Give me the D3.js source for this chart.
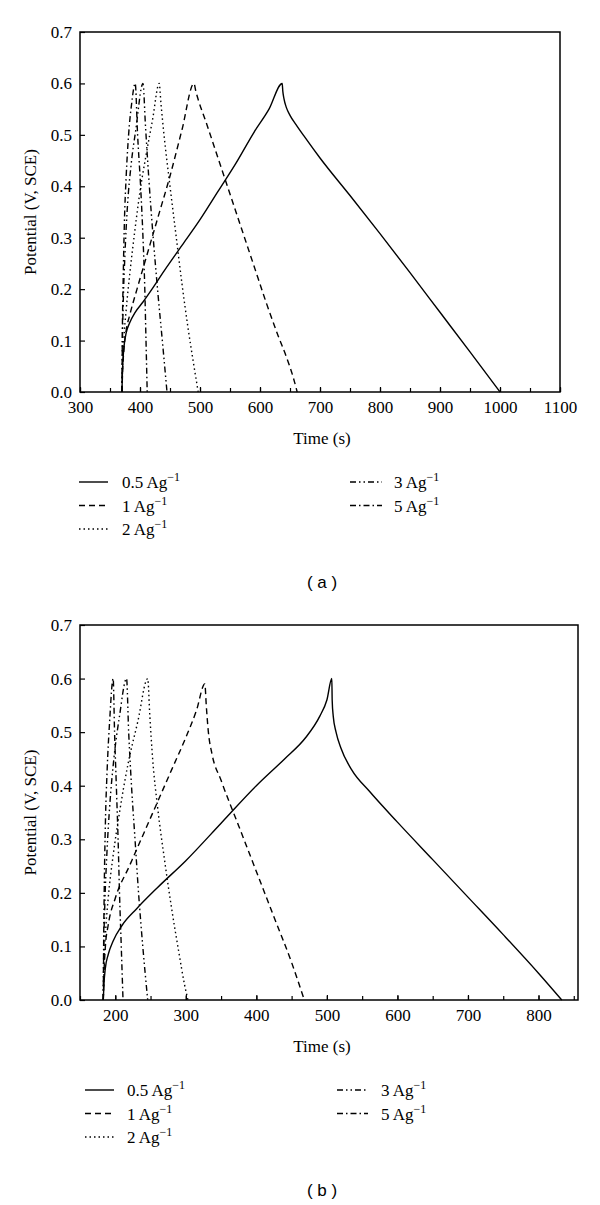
<!DOCTYPE html>
<html>
<head>
<meta charset="utf-8">
<script src="https://cdn.jsdelivr.net/npm/d3@7"></script>
<style>
  html, body { margin: 0; padding: 0; background: #fff; }
  svg { display: block; }
</style>
</head>
<body>
<svg id="chart" width="600" height="1205"></svg>
<script>
// ---------------- DATA ----------------
const seriesNames = ["0.5 Ag", "1 Ag", "2 Ag", "3 Ag", "5 Ag"];
const yTicks = [0, 0.1, 0.2, 0.3, 0.4, 0.5, 0.6, 0.7];
const xTicksA = [300, 400, 500, 600, 700, 800, 900, 1000, 1100];
const xTicksB = [200, 300, 400, 500, 600, 700, 800];

// Panel (a): [time (s), potential (V)]
const a_05 = [[370,0],[370.5,0.03],[371.5,0.06],[373.5,0.09],[377,0.115],[383,0.135],[392,0.155],[405,0.175],[420,0.2],[440,0.235],[470,0.285],[500,0.335],[530,0.39],[560,0.445],[590,0.505],[615,0.55],[637,0.6],
  [638,0.585],[640,0.57],[644,0.553],[650,0.538],[660,0.52],[675,0.495],[700,0.455],[750,0.382],[800,0.308],[850,0.232],[900,0.155],[950,0.078],[1000,0]];
const a_1 = [[370,0],[371,0.04],[373,0.08],[377,0.12],[383,0.15],[395,0.2],[410,0.26],[430,0.34],[450,0.42],[470,0.51],[490,0.6],
  [493,0.585],[498,0.565],[510,0.525],[530,0.455],[550,0.385],[570,0.315],[590,0.245],[610,0.175],[630,0.11],[645,0.065],[655,0.03],[662,0]];
const a_2 = [[370,0],[371,0.05],[373,0.1],[377,0.16],[383,0.23],[391,0.31],[400,0.39],[410,0.46],[421,0.53],[432,0.6],
  [435,0.56],[440,0.5],[450,0.4],[460,0.305],[470,0.21],[480,0.125],[490,0.05],[497,0]];
const a_3 = [[370,0],[370.5,0.08],[372,0.17],[375,0.27],[379,0.36],[385,0.44],[393,0.51],[405,0.6],
  [409,0.52],[415,0.41],[422,0.3],[430,0.19],[438,0.09],[445,0]];
const a_5 = [[370,0],[370.5,0.1],[372,0.22],[374,0.33],[377,0.42],[381,0.5],[386,0.56],[392,0.6],
  [396,0.5],[401,0.4],[405,0.3],[408,0.2],[410,0.1],[412,0]];

// Panel (b)
const b_05 = [[183,0],[184,0.03],[186,0.06],[190,0.085],[197,0.11],[210,0.14],[230,0.17],[260,0.21],[300,0.26],[350,0.33],[400,0.4],[440,0.45],[470,0.49],[490,0.53],[500,0.56],[507,0.6],
  [507.5,0.56],[509,0.53],[513,0.5],[520,0.47],[535,0.43],[560,0.39],[600,0.332],[650,0.262],[700,0.192],[750,0.122],[800,0.05],[833,0]];
const b_1 = [[183,0],[184,0.05],[186,0.1],[190,0.14],[200,0.19],[220,0.25],[250,0.34],[280,0.43],[300,0.49],[315,0.54],[327,0.59],
  [329,0.55],[332,0.5],[337,0.46],[350,0.41],[375,0.325],[400,0.24],[425,0.155],[450,0.07],[468,0]];
const b_2 = [[183,0],[184,0.06],[186,0.12],[190,0.19],[197,0.27],[206,0.35],[218,0.44],[232,0.52],[246,0.6],
  [249,0.53],[253,0.45],[260,0.36],[270,0.26],[280,0.17],[290,0.09],[298,0.03],[303,0]];
const b_3 = [[183,0],[183.5,0.08],[185,0.17],[188,0.27],[192,0.36],[198,0.45],[206,0.53],[216,0.6],
  [219,0.5],[223,0.4],[228,0.3],[233,0.2],[239,0.1],[246,0]];
const b_5 = [[183,0],[183.5,0.1],[184.5,0.22],[186,0.33],[188.5,0.43],[192,0.52],[197,0.6],
  [199,0.5],[201.5,0.4],[204,0.3],[206,0.2],[208.5,0.1],[211,0]];

// ---------------- LAYOUT / STYLE ----------------
const dashes = [null, "6,4", "1.5,3", "6,3,1.5,3,1.5,3", "6,3,1.5,3"];
const serif = "'Liberation Serif', 'Times New Roman', serif";
const sans = "'Liberation Sans', Arial, sans-serif";

const panels = [
  { caption: "( a )", frame: {x0: 80, x1: 560, y0: 32, y1: 392}, xDomain: [300, 1100],
    xTicks: xTicksA, minorStep: 50, series: [a_05, a_1, a_2, a_3, a_5], legendY: 482, captionY: 582,
    legCols: [{l0: 79, l1: 108, t: 122}, {l0: 350, l1: 382, t: 394}] },
  { caption: "( b )", frame: {x0: 80, x1: 578, y0: 625, y1: 1000}, xDomain: [150, 856],
    xTicks: xTicksB, minorStep: 50, series: [b_05, b_1, b_2, b_3, b_5], legendY: 1090, captionY: 1190,
    legCols: [{l0: 85, l1: 114, t: 127}, {l0: 337, l1: 368, t: 381}] }
];

const svg = d3.select("#chart");

panels.forEach(p => {
  const f = p.frame;
  const x = d3.scaleLinear().domain(p.xDomain).range([f.x0, f.x1]);
  const y = d3.scaleLinear().domain([0, 0.7]).range([f.y1, f.y0]);
  const g = svg.append("g");

  // minor x ticks
  const minor = d3.range(Math.ceil(p.xDomain[0] / p.minorStep) * p.minorStep, p.xDomain[1] + 1e-9, p.minorStep);
  g.append("g").attr("transform", `translate(0,${f.y1})`)
    .call(d3.axisBottom(x).tickValues(minor).tickSize(-4).tickFormat(""))
    .call(s => s.select(".domain").remove())
    .call(s => s.selectAll("line").attr("stroke", "#000").attr("stroke-width", 1.2));

  // major x axis
  g.append("g").attr("transform", `translate(0,${f.y1})`)
    .call(d3.axisBottom(x).tickValues(p.xTicks).tickSize(-5).tickPadding(9).tickFormat(d3.format("d")))
    .call(s => s.select(".domain").remove())
    .call(s => s.selectAll("line").attr("stroke", "#000").attr("stroke-width", 1.2))
    .call(s => s.selectAll("text").attr("font-family", serif).attr("font-size", 17).attr("fill", "#000"));

  // y axis
  g.append("g").attr("transform", `translate(${f.x0},0)`)
    .call(d3.axisLeft(y).tickValues(yTicks).tickSize(-5).tickPadding(8).tickFormat(d3.format(".1f")))
    .call(s => s.select(".domain").remove())
    .call(s => s.selectAll("line").attr("stroke", "#000").attr("stroke-width", 1.2))
    .call(s => s.selectAll("text").attr("font-family", serif).attr("font-size", 17).attr("fill", "#000"));

  // frame
  g.append("rect").attr("x", f.x0).attr("y", f.y0)
    .attr("width", f.x1 - f.x0).attr("height", f.y1 - f.y0)
    .attr("fill", "none").attr("stroke", "#000").attr("stroke-width", 1.5);

  // curves
  const line = d3.line().x(d => x(d[0])).y(d => y(d[1])).curve(d3.curveMonotoneX);
  p.series.forEach((s, i) => {
    g.append("path").datum(s).attr("d", line)
      .attr("fill", "none").attr("stroke", "#000").attr("stroke-width", 1.4)
      .attr("stroke-dasharray", dashes[i]);
  });

  // axis titles
  g.append("text").attr("x", 322).attr("y", f.y1 + 52)
    .attr("text-anchor", "middle").attr("font-family", serif).attr("font-size", 17)
    .text("Time (s)");
  g.append("text")
    .attr("transform", `translate(36,${(f.y0 + f.y1) / 2}) rotate(-90)`)
    .attr("text-anchor", "middle").attr("font-family", serif).attr("font-size", 17)
    .text("Potential (V, SCE)");

  // legend
  const legPos = [[0, 0], [0, 1], [0, 2], [1, 0], [1, 1]];
  seriesNames.forEach((name, i) => {
    const c = p.legCols[legPos[i][0]];
    const ly = p.legendY + legPos[i][1] * 23.5;
    g.append("line").attr("x1", c.l0).attr("x2", c.l1).attr("y1", ly).attr("y2", ly)
      .attr("stroke", "#000").attr("stroke-width", 1.4).attr("stroke-dasharray", dashes[i]);
    const t = g.append("text").attr("x", c.t).attr("y", ly + 6)
      .attr("font-family", serif).attr("font-size", 17).attr("fill", "#000");
    t.append("tspan").text(name);
    t.append("tspan").attr("dy", -7).attr("font-size", 12).text("\u22121");
  });

  // caption
  g.append("text").attr("x", 322).attr("y", p.captionY + 6)
    .attr("text-anchor", "middle").attr("font-family", sans).attr("font-size", 17)
    .text(p.caption);
});
</script>
</body>
</html>
